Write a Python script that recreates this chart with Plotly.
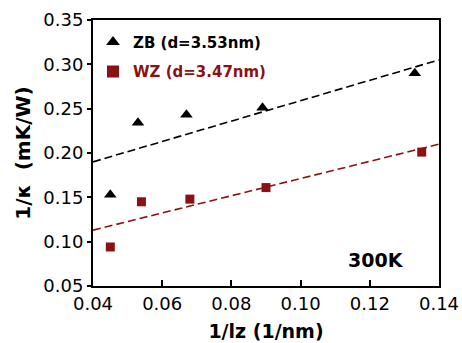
import plotly.graph_objects as go

zb_x = [0.045, 0.053, 0.067, 0.089, 0.133]
zb_y = [0.153, 0.234, 0.243, 0.251, 0.290]
wz_x = [0.045, 0.054, 0.068, 0.090, 0.135]
wz_y = [0.094, 0.145, 0.148, 0.161, 0.201]
zb_fit_x = [0.04, 0.14]
zb_fit_y = [0.190, 0.305]
wz_fit_x = [0.04, 0.14]
wz_fit_y = [0.113, 0.210]

RED = "#8b1212"
FONT = "DejaVu Sans, Arial"
fig = go.Figure()
fig.add_trace(go.Scatter(x=zb_fit_x, y=zb_fit_y, mode="lines", showlegend=False,
                         line=dict(color="black", width=1.6, dash="8px,4px")))
fig.add_trace(go.Scatter(x=wz_fit_x, y=wz_fit_y, mode="lines", showlegend=False,
                         line=dict(color=RED, width=1.6, dash="8px,4px")))
fig.add_trace(go.Scatter(x=zb_x, y=zb_y, mode="markers", name="<b>ZB (d=3.53nm)</b>",
                         legendgroup="zb",
                         marker=dict(symbol="triangle-up", size=11, color="black")))
fig.add_trace(go.Scatter(x=wz_x, y=wz_y, mode="markers", legendgroup="wz",
                         name=f'<b><span style="color:{RED}">WZ (d=3.47nm)</span></b>',
                         marker=dict(symbol="square", size=9, color=RED)))

fig.add_annotation(x=0.1218, y=0.0793, text="<b>300K</b>", showarrow=False,
                   xanchor="center", yanchor="middle",
                   font=dict(size=19, color="black", family=FONT))

fig.update_layout(
    width=462, height=343,
    margin=dict(l=93, r=23, t=20, b=57, autoexpand=False),
    plot_bgcolor="white", paper_bgcolor="white",
    font=dict(family=FONT, color="black"),
    legend=dict(x=0.0, y=0.978, xanchor="left", yanchor="top",
                bgcolor="rgba(0,0,0,0)", font=dict(size=15, color="black"),
                itemsizing="constant", tracegroupgap=7, traceorder="grouped"),
    xaxis=dict(range=[0.04, 0.14], tickvals=[0.04, 0.06, 0.08, 0.10, 0.12, 0.14],
               ticktext=["0.04", "0.06", "0.08", "0.10", "0.12", "0.14"],
               ticks="inside", ticklen=6, tickwidth=1.5, tickcolor="black",
               showline=True, linecolor="black", linewidth=2, mirror=True,
               showgrid=False, zeroline=False,
               tickfont=dict(size=18),
               title=dict(text="<b>1/lz (1/nm)</b>", font=dict(size=19), standoff=12)),
    yaxis=dict(range=[0.05, 0.35], tickvals=[0.05, 0.10, 0.15, 0.20, 0.25, 0.30, 0.35],
               ticktext=["0.05", "0.10", "0.15", "0.20", "0.25", "0.30", "0.35"],
               ticks="outside", ticklen=4, tickwidth=1.5, tickcolor="black",
               showline=True, linecolor="black", linewidth=2, mirror=True,
               showgrid=False, zeroline=False,
               tickfont=dict(size=18),
               title=dict(text="<b>1/κ  (mK/W)</b>", font=dict(size=20), standoff=7)),
)
fig.write_html("out.html")
